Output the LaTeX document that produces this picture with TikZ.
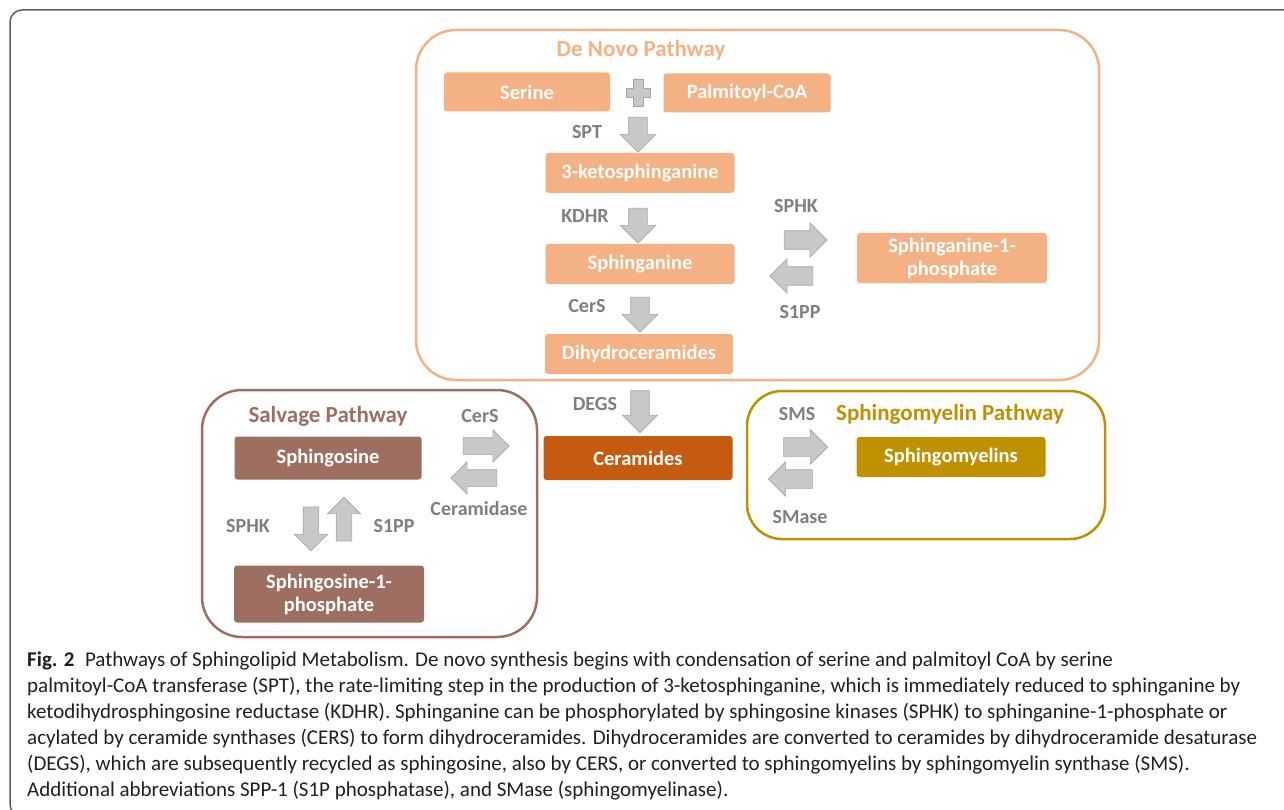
\documentclass[tikz,border=0pt]{standalone}
\usepackage{fontspec}
\setmainfont{Carlito}
\usetikzlibrary{shapes.arrows}

\definecolor{novo}{HTML}{F4B183}
\definecolor{ceramide}{HTML}{C55A11}
\definecolor{salvage}{HTML}{9E6F61}
\definecolor{myelin}{HTML}{BF9000}
\definecolor{arrowfill}{HTML}{C8C8C8}
\definecolor{arrowedge}{HTML}{A5A5A5}
\definecolor{enzyme}{HTML}{7F7F7F}
\definecolor{frame}{HTML}{5F5F5F}
\definecolor{captiontext}{HTML}{231F20}

\begin{document}
\begin{tikzpicture}[x = 1pt, y = -1pt,
    metabolite/.style = {text = white, rounded corners = 3pt, align = center, inner sep = 0pt,
        font = \fontsize{20.5}{23}\selectfont\bfseries},
    pathway/.style = {rounded corners = 40pt, line width = 2.5pt},
    title/.style = {font = \fontsize{23}{25}\selectfont\bfseries},
    enzyme/.style = {text = enzyme, font = \fontsize{20}{22}\selectfont\bfseries},
    block arrow/.style = {single arrow, fill = arrowfill, draw = arrowedge, line width = 0.6pt,
        inner xsep = 0pt, inner ysep = 9pt, minimum height = 35pt, single arrow head extend = 8.5pt},
    block down/.style = {block arrow, rotate = -90},
    block up/.style = {block arrow, rotate = 90},
    block left/.style = {block arrow, rotate = 180}]
    \useasboundingbox (0, 0) rectangle (1284, 810);
    \draw[frame, line width = 1.5pt, rounded corners = 12pt] (1290, 10) -- (10, 10) -- (10, 816) -- (40, 816);

    \draw[novo, pathway] (416, 30) rectangle (1099, 380);
    \node[title, text = novo] (de novo) at (641, 50) {De Novo Pathway};
    \node[metabolite, fill = novo, minimum width = 166pt, minimum height = 39pt] (serine) at (527, 92) {Serine};
    \node[metabolite, fill = novo, minimum width = 167pt, minimum height = 39pt] (palmitoyl) at (747, 93) {Palmitoyl-CoA};
    \node (plus) at (638, 92) {};
    \filldraw[fill = arrowfill, draw = arrowedge, line width = 0.6pt] (633, 79) -- (643, 79) -- (643, 88) -- (650, 88) -- (650, 97)
        -- (643, 97) -- (643, 106) -- (633, 106) -- (633, 97) -- (626, 97) -- (626, 88) -- (633, 88) -- cycle;
    \node[block down] (spt arrow) at (638, 130) {};
    \node[enzyme] (spt) at (587, 132) {SPT};
    \node[metabolite, fill = novo, minimum width = 189pt, minimum height = 40pt] (ketosphinganine) at (640, 173) {3-ketosphinganine};
    \node[block down] (kdhr arrow) at (638, 221) {};
    \node[enzyme] (kdhr) at (585, 216) {KDHR};
    \node[metabolite, fill = novo, minimum width = 189pt, minimum height = 40pt] (sphinganine) at (640, 264) {Sphinganine};
    \node[block down] (cers arrow) at (640, 310) {};
    \node[enzyme] (cers) at (587, 306) {CerS};
    \node[metabolite, fill = novo, minimum width = 188pt, minimum height = 40pt] (dihydroceramides) at (639, 354) {Dihydroceramides};
    \node[block arrow, minimum height = 43pt, single arrow head extend = 8pt] (sphk arrow) at (801, 240) {};
    \node[enzyme] (sphk) at (796, 206) {SPHK};
    \node[block left, minimum height = 43pt, single arrow head extend = 8pt] (s1pp arrow) at (796, 276) {};
    \node[enzyme] (s1pp) at (800, 312) {S1PP};
    \node[metabolite, fill = novo, minimum width = 190pt, minimum height = 50pt] (sphinganine phosphate) at (952, 258) {Sphinganine-1-\\phosphate};

    \node[block down, minimum height = 42pt, single arrow head extend = 8pt] (degs arrow) at (640, 407) {};
    \node[enzyme] (degs) at (595, 404) {DEGS};
    \node[metabolite, fill = ceramide, minimum width = 189pt, minimum height = 44pt] (ceramides) at (638, 458) {Ceramides};

    \draw[salvage, pathway] (202, 390) rectangle (537, 637);
    \node[title, text = salvage] (salvage) at (328, 416) {Salvage Pathway};
    \node[metabolite, fill = salvage, minimum width = 187pt, minimum height = 43pt] (sphingosine) at (328, 458) {Sphingosine};
    \node[block arrow, minimum height = 46pt, inner ysep = 8pt, single arrow head extend = 8pt] (cers salvage arrow) at (482, 446) {};
    \node[enzyme] (cers salvage) at (480, 416) {CerS};
    \node[block left, minimum height = 46pt, inner ysep = 8pt, single arrow head extend = 8pt] (ceramidase arrow) at (478, 478) {};
    \node[enzyme] (ceramidase) at (479, 509) {Ceramidase};
    \node[block down, minimum height = 44pt, inner ysep = 7.5pt, single arrow head extend = 9pt] (sphk salvage arrow) at (311, 525) {};
    \node[enzyme] (sphk salvage) at (248, 526) {SPHK};
    \node[block up, minimum height = 44pt, inner ysep = 7.5pt, single arrow head extend = 9pt] (s1pp salvage arrow) at (344, 523) {};
    \node[enzyme] (s1pp salvage) at (394, 526) {S1PP};
    \node[metabolite, fill = salvage, minimum width = 190pt, minimum height = 57pt] (sphingosine phosphate) at (329, 594) {Sphingosine-1-\\phosphate};

    \draw[myelin, pathway, rounded corners = 35pt] (747, 391) rectangle (1105, 539);
    \node[title, text = myelin] (sphingomyelin) at (950, 414) {Sphingomyelin Pathway};
    \node[enzyme] (sms) at (797, 414) {SMS};
    \node[block arrow, minimum height = 44pt, single arrow head extend = 8pt] (sms arrow) at (801, 447) {};
    \node[block left, minimum height = 44pt, single arrow head extend = 8pt] (smase arrow) at (795, 479) {};
    \node[enzyme] (smase) at (800, 517) {SMase};
    \node[metabolite, fill = myelin, minimum width = 189pt, minimum height = 40pt] (sphingomyelins) at (951, 457) {Sphingomyelins};

    \node[anchor = north west, align = left, inner sep = 0pt, text = captiontext,
        font = \fontsize{21}{26}\selectfont] (caption) at (27, 652)
        {\textbf{Fig. 2}\hspace{0.5em}Pathways of Sphingolipid Metabolism. De novo synthesis begins with condensation of serine and palmitoyl CoA by serine\\
        palmitoyl-CoA transferase (SPT), the rate-limiting step in the production of 3-ketosphinganine, which is immediately reduced to sphinganine by\\
        ketodihydrosphingosine reductase (KDHR). Sphinganine can be phosphorylated by sphingosine kinases (SPHK) to sphinganine-1-phosphate or\\
        acylated by ceramide synthases (CERS) to form dihydroceramides. Dihydroceramides are converted to ceramides by dihydroceramide desaturase\\
        (DEGS), which are subsequently recycled as sphingosine, also by CERS, or converted to sphingomyelins by sphingomyelin synthase (SMS).\\
        Additional abbreviations SPP-1 (S1P phosphatase), and SMase (sphingomyelinase).};
\end{tikzpicture}
\end{document}
